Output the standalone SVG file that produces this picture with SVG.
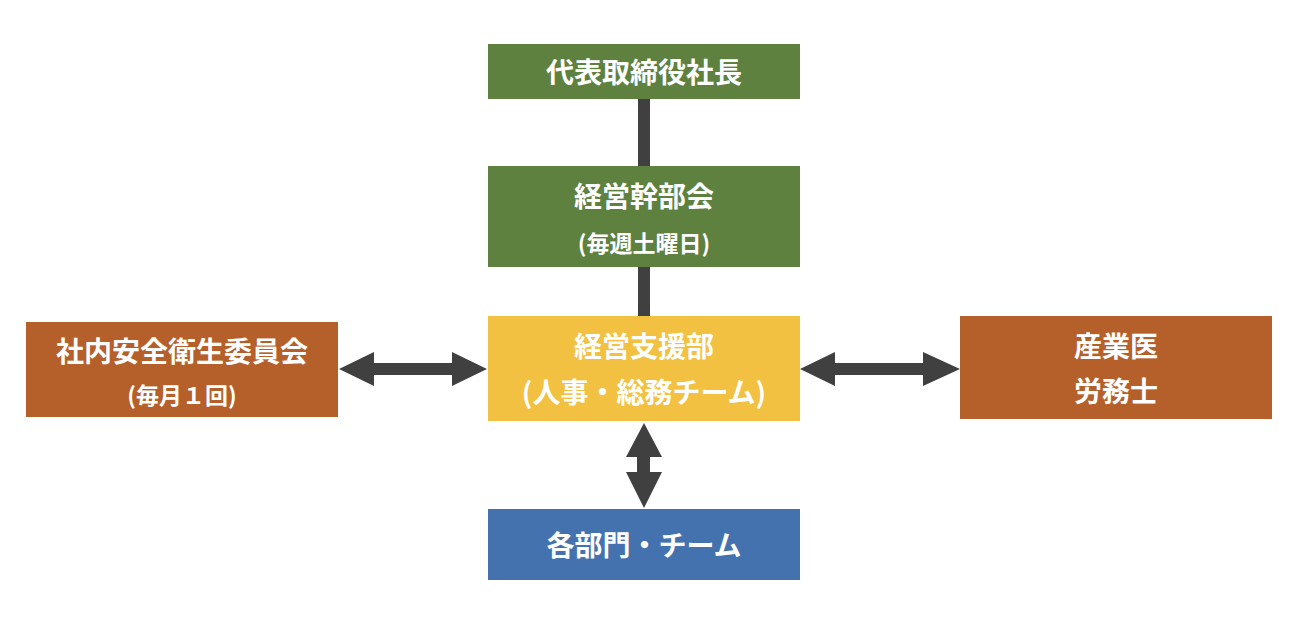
<svg xmlns="http://www.w3.org/2000/svg" width="1304" height="620" viewBox="0 0 1304 620">
<style>
.t{font-family:"Noto Sans CJK JP","Noto Sans",sans-serif;font-weight:bold;fill:#ffffff;text-anchor:middle;dominant-baseline:central}
.l{font-size:28px}
.s{font-size:23px}
.g{fill:#5E813F}
.y{fill:#F3C141}
.o{fill:#B5602B}
.b{fill:#4472AE}
.c{fill:#404040}
</style>
<rect width="1304" height="620" fill="#ffffff"/>
<g id="connectors">
<rect class="c" x="638" y="98" width="12" height="69"/>
<rect class="c" x="638" y="266" width="12" height="51"/>
<polygon class="c" points="339,369 374,352 374,363 452,363 452,352 487,369 452,386 452,375 374,375 374,386"/>
<polygon class="c" points="800,369 835,352 835,363 923,363 923,352 960,369 923,386 923,375 835,375 835,386"/>
<polygon class="c" points="644,423 662,457 650,457 650,472 662,472 644,508 626,472 637,472 637,457 626,457"/>
</g>
<g id="ceo">
<rect class="g" x="488" y="44" width="312" height="55"/>
<text class="t l" x="644" y="71">代表取締役社長</text>
</g>
<g id="exec">
<rect class="g" x="488" y="166" width="312" height="101"/>
<text class="t l" x="644" y="195">経営幹部会</text>
<text class="t s" x="644" y="242">(毎週土曜日)</text>
</g>
<g id="support">
<rect class="y" x="488" y="316" width="312" height="105"/>
<text class="t l" x="644" y="345">経営支援部</text>
<text class="t l" x="644" y="391">(人事・総務チーム)</text>
</g>
<g id="safety">
<rect class="o" x="26" y="322" width="312" height="95"/>
<text class="t l" x="182" y="350">社内安全衛生委員会</text>
<text class="t s" x="182" y="394">(毎月１回)</text>
</g>
<g id="external">
<rect class="o" x="960" y="316" width="312" height="103"/>
<text class="t l" x="1116" y="345">産業医</text>
<text class="t l" x="1116" y="390">労務士</text>
</g>
<g id="departments">
<rect class="b" x="488" y="509" width="312" height="71"/>
<text class="t l" x="644" y="544">各部門・チーム</text>
</g>
</svg>
